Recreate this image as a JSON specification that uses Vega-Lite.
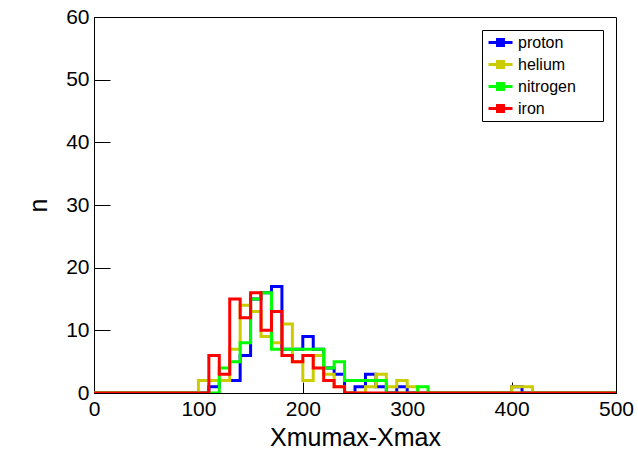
{
  "$schema": "https://vega.github.io/schema/vega-lite/v6.json",
  "width": 522,
  "height": 376,
  "autosize": {"type": "none"},
  "padding": {"left": 94, "right": 22, "top": 17, "bottom": 59},
  "background": "white",
  "config": {
    "font": "Liberation Sans",
    "view": {"stroke": "black", "strokeWidth": 1},
    "axis": {"grid": false, "domainColor": "black", "tickColor": "black", "labelColor": "black", "titleColor": "black", "labelFont": "Liberation Sans", "titleFont": "Liberation Sans", "titleFontWeight": "normal"}
  },
  "data": {
    "values": [
      {"species": "proton", "x": 0, "n": 0},
      {"species": "proton", "x": 110, "n": 1},
      {"species": "proton", "x": 120, "n": 2},
      {"species": "proton", "x": 130, "n": 2},
      {"species": "proton", "x": 140, "n": 6},
      {"species": "proton", "x": 150, "n": 15},
      {"species": "proton", "x": 160, "n": 16},
      {"species": "proton", "x": 170, "n": 17},
      {"species": "proton", "x": 180, "n": 7},
      {"species": "proton", "x": 190, "n": 7},
      {"species": "proton", "x": 200, "n": 9},
      {"species": "proton", "x": 210, "n": 7},
      {"species": "proton", "x": 220, "n": 4},
      {"species": "proton", "x": 230, "n": 3},
      {"species": "proton", "x": 240, "n": 0},
      {"species": "proton", "x": 250, "n": 1},
      {"species": "proton", "x": 260, "n": 3},
      {"species": "proton", "x": 270, "n": 1},
      {"species": "proton", "x": 280, "n": 0},
      {"species": "proton", "x": 290, "n": 1},
      {"species": "proton", "x": 300, "n": 0},
      {"species": "proton", "x": 400, "n": 1},
      {"species": "proton", "x": 410, "n": 0},
      {"species": "proton", "x": 500, "n": 0},
      {"species": "helium", "x": 0, "n": 0},
      {"species": "helium", "x": 100, "n": 2},
      {"species": "helium", "x": 110, "n": 2},
      {"species": "helium", "x": 120, "n": 2},
      {"species": "helium", "x": 130, "n": 7},
      {"species": "helium", "x": 140, "n": 14},
      {"species": "helium", "x": 150, "n": 13},
      {"species": "helium", "x": 160, "n": 9},
      {"species": "helium", "x": 170, "n": 8},
      {"species": "helium", "x": 180, "n": 11},
      {"species": "helium", "x": 190, "n": 5},
      {"species": "helium", "x": 200, "n": 2},
      {"species": "helium", "x": 210, "n": 6},
      {"species": "helium", "x": 220, "n": 3},
      {"species": "helium", "x": 230, "n": 1},
      {"species": "helium", "x": 240, "n": 0},
      {"species": "helium", "x": 260, "n": 1},
      {"species": "helium", "x": 270, "n": 3},
      {"species": "helium", "x": 280, "n": 1},
      {"species": "helium", "x": 290, "n": 2},
      {"species": "helium", "x": 300, "n": 1},
      {"species": "helium", "x": 310, "n": 0},
      {"species": "helium", "x": 400, "n": 1},
      {"species": "helium", "x": 410, "n": 1},
      {"species": "helium", "x": 420, "n": 0},
      {"species": "helium", "x": 500, "n": 0},
      {"species": "nitrogen", "x": 0, "n": 0},
      {"species": "nitrogen", "x": 120, "n": 4},
      {"species": "nitrogen", "x": 130, "n": 5},
      {"species": "nitrogen", "x": 140, "n": 8},
      {"species": "nitrogen", "x": 150, "n": 15},
      {"species": "nitrogen", "x": 160, "n": 16},
      {"species": "nitrogen", "x": 170, "n": 7},
      {"species": "nitrogen", "x": 180, "n": 7},
      {"species": "nitrogen", "x": 190, "n": 7},
      {"species": "nitrogen", "x": 200, "n": 7},
      {"species": "nitrogen", "x": 210, "n": 7},
      {"species": "nitrogen", "x": 220, "n": 4},
      {"species": "nitrogen", "x": 230, "n": 5},
      {"species": "nitrogen", "x": 240, "n": 2},
      {"species": "nitrogen", "x": 250, "n": 2},
      {"species": "nitrogen", "x": 260, "n": 2},
      {"species": "nitrogen", "x": 270, "n": 2},
      {"species": "nitrogen", "x": 280, "n": 0},
      {"species": "nitrogen", "x": 310, "n": 1},
      {"species": "nitrogen", "x": 320, "n": 0},
      {"species": "nitrogen", "x": 500, "n": 0},
      {"species": "iron", "x": 0, "n": 0},
      {"species": "iron", "x": 110, "n": 6},
      {"species": "iron", "x": 120, "n": 3},
      {"species": "iron", "x": 130, "n": 15},
      {"species": "iron", "x": 140, "n": 12},
      {"species": "iron", "x": 150, "n": 16},
      {"species": "iron", "x": 160, "n": 10},
      {"species": "iron", "x": 170, "n": 13},
      {"species": "iron", "x": 180, "n": 6},
      {"species": "iron", "x": 190, "n": 5},
      {"species": "iron", "x": 200, "n": 6},
      {"species": "iron", "x": 210, "n": 4},
      {"species": "iron", "x": 220, "n": 2},
      {"species": "iron", "x": 230, "n": 1},
      {"species": "iron", "x": 240, "n": 0},
      {"species": "iron", "x": 500, "n": 0}
    ]
  },
  "mark": {"type": "line", "interpolate": "step-after", "strokeWidth": 3, "clip": true},
  "encoding": {
    "x": {
      "field": "x", "type": "quantitative",
      "scale": {"domain": [0, 500], "nice": false, "zero": false},
      "axis": {"values": [0, 100, 200, 300, 400, 500], "title": "Xmumax-Xmax", "labelFontSize": 21, "titleFontSize": 25, "tickSize": -11, "labelPadding": 16, "titlePadding": 6, "labelFlush": false}
    },
    "y": {
      "field": "n", "type": "quantitative",
      "scale": {"domain": [0, 60], "nice": false},
      "axis": {"values": [0, 10, 20, 30, 40, 50, 60], "title": "n", "labelFontSize": 21, "titleFontSize": 25, "tickSize": -16, "labelPadding": 21, "titlePadding": 14}
    },
    "color": {
      "field": "species", "type": "nominal",
      "scale": {"domain": ["proton", "helium", "nitrogen", "iron"], "range": ["#0000ff", "#cccc00", "#00ff00", "#ff0000"]},
      "legend": {
        "title": null,
        "orient": "top-right",
        "offset": 13,
        "strokeColor": "black",
        "fillColor": "white",
        "padding": 3,
        "rowPadding": 3,
        "labelFontSize": 16,
        "labelOffset": 14,
        "labelFont": "Liberation Sans",
        "labelColor": "black",
        "labelExpr": "datum.label + '\u2800\u2800'",
        "symbolType": "M-0.75,0H2.25M0.375,-0.375H1.125V0.375H0.375Z",
        "symbolSize": 256,
        "symbolStrokeWidth": 3
      }
    },
    "order": {"field": "x", "type": "quantitative"}
  }
}
